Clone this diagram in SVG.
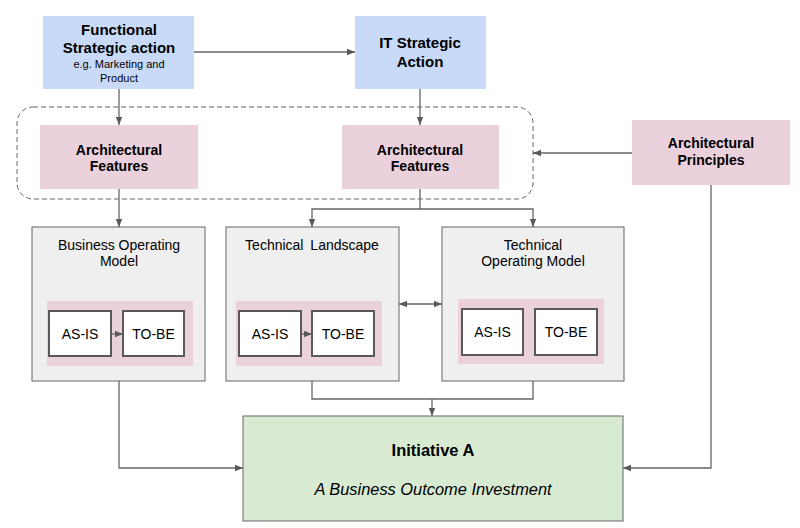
<svg xmlns="http://www.w3.org/2000/svg" width="800" height="528" viewBox="0 0 800 528">
<defs>
<marker id="ah" viewBox="0 0 10 10" refX="10" refY="5" markerWidth="8" markerHeight="8" markerUnits="userSpaceOnUse" orient="auto-start-reverse">
<path d="M0,1 L10,5 L0,9 Z" fill="#595959"/>
</marker>
<style>
.t{font-family:"Liberation Sans",Arial,sans-serif;fill:#000;text-anchor:middle}
.b{font-weight:bold;font-size:14px}
.bl{font-weight:bold;font-size:15px}
.r{font-size:14px}
.s{font-size:11px}
.blue{fill:#c9daf8}
.pink{fill:#ead1dc}
.gray{fill:#efefef;stroke:#666;stroke-width:1}
.white{fill:#fff;stroke:#595959;stroke-width:2}
.c{fill:none;stroke:#666;stroke-width:1.3}
</style>
</defs>
<rect width="800" height="528" fill="#fff"/>

<g id="feature-group">
<rect x="17" y="107" width="516" height="92" rx="16" fill="none" stroke="#666" stroke-width="1" stroke-dasharray="5,3"/>
</g>

<g id="functional">
<rect class="blue" x="43" y="16" width="151" height="73"/>
<text class="t bl" x="119" y="35">Functional</text>
<text class="t bl" x="119" y="53">Strategic action</text>
<text class="t s" x="119" y="68">e.g. Marketing and</text>
<text class="t s" x="119" y="82">Product</text>
</g>

<g id="it-strategic">
<rect class="blue" x="355" y="16" width="131" height="73"/>
<text class="t bl" x="420" y="48">IT Strategic</text>
<text class="t bl" x="420" y="67">Action</text>
</g>

<g id="af-left">
<rect class="pink" x="40" y="125" width="158" height="64"/>
<text class="t b" x="119" y="155">Architectural</text>
<text class="t b" x="119" y="171">Features</text>
</g>

<g id="af-right">
<rect class="pink" x="342" y="125" width="157" height="64"/>
<text class="t b" x="420" y="155">Architectural</text>
<text class="t b" x="420" y="171">Features</text>
</g>

<g id="principles">
<rect class="pink" x="632" y="120" width="158" height="65"/>
<text class="t b" x="711" y="148">Architectural</text>
<text class="t b" x="711" y="165">Principles</text>
</g>

<g id="bom">
<rect class="gray" x="32" y="227" width="173" height="154"/>
<text class="t r" x="119" y="250">Business Operating</text>
<text class="t r" x="119" y="266">Model</text>
<rect class="pink" x="47" y="301" width="146" height="65"/>
<rect class="white" x="49" y="311" width="62" height="45"/>
<text class="t r" x="80" y="339">AS-IS</text>
<rect class="white" x="123" y="311" width="61" height="45"/>
<text class="t r" x="153.5" y="339">TO-BE</text>
</g>

<g id="tl">
<rect class="gray" x="226" y="227" width="173" height="154"/>
<text class="t r" x="312" y="250" word-spacing="3">Technical Landscape</text>
<rect class="pink" x="236" y="301" width="146" height="65"/>
<rect class="white" x="239" y="311" width="62" height="45"/>
<text class="t r" x="270" y="339">AS-IS</text>
<rect class="white" x="312" y="311" width="62" height="45"/>
<text class="t r" x="343" y="339">TO-BE</text>
</g>

<g id="tom">
<rect class="gray" x="442" y="227" width="182" height="154"/>
<text class="t r" x="533" y="250">Technical</text>
<text class="t r" x="533" y="266">Operating Model</text>
<rect class="pink" x="458" y="299" width="146" height="65"/>
<rect class="white" x="462" y="309" width="61" height="46"/>
<text class="t r" x="492.5" y="337">AS-IS</text>
<rect class="white" x="535" y="309" width="62" height="46"/>
<text class="t r" x="566" y="337">TO-BE</text>
</g>

<g id="initiative">
<rect x="243" y="416" width="380" height="105" fill="#d9ead3" stroke="#666" stroke-width="1"/>
<text class="t" x="433" y="456" font-size="16.5" font-weight="bold">Initiative A</text>
<text class="t" x="433" y="495" font-size="16.4" font-style="italic">A Business Outcome Investment</text>
</g>

<g id="connectors">
<path class="c" d="M194,52 H355" marker-end="url(#ah)"/>
<path class="c" d="M119,89 V125" marker-end="url(#ah)"/>
<path class="c" d="M420,89 V125" marker-end="url(#ah)"/>
<path class="c" d="M632,153 H533" marker-end="url(#ah)"/>
<path class="c" d="M119,189 V227" marker-end="url(#ah)"/>
<path class="c" d="M420,189 V209"/>
<path class="c" d="M420,209 H312 V227" marker-end="url(#ah)"/>
<path class="c" d="M420,209 H533 V227" marker-end="url(#ah)"/>
<path class="c" d="M111,334 H123" marker-end="url(#ah)"/>
<path class="c" d="M301,334 H312" marker-end="url(#ah)"/>
<path class="c" d="M399,304 H442" marker-start="url(#ah)" marker-end="url(#ah)"/>
<path class="c" d="M312,381 V399 H533 V381"/>
<path class="c" d="M432,399 V416" marker-end="url(#ah)"/>
<path class="c" d="M119,381 V468 H243" marker-end="url(#ah)"/>
<path class="c" d="M711,185 V468 H623" marker-end="url(#ah)"/>
</g>
</svg>
